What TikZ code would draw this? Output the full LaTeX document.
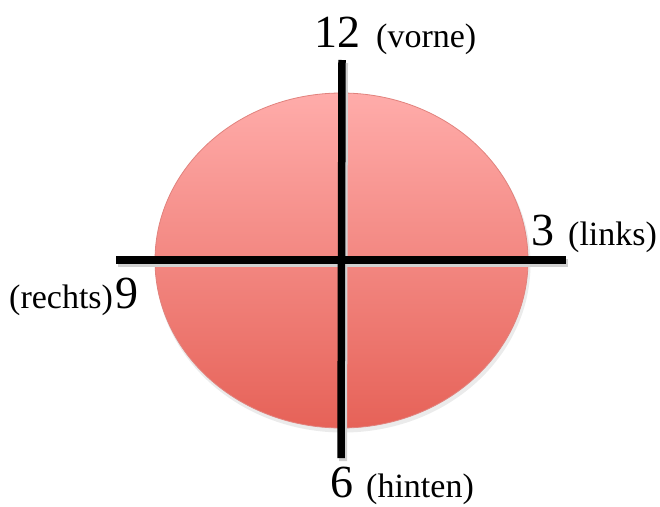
\documentclass[tikz,border=0pt]{standalone}
\usepackage{fontspec}
\setmainfont{Liberation Serif}
\usetikzlibrary{shapes.geometric}
\definecolor{disktop}{RGB}{255,172,170}
\definecolor{diskbot}{RGB}{230,98,88}
\definecolor{diskrim}{RGB}{225,130,125}
\begin{document}
\begin{tikzpicture}[x=1pt,y=-1pt,
  num/.style={font=\fontsize{46}{46}\selectfont, inner sep=0pt, anchor=base west},
  lab/.style={font=\fontsize{34}{34}\selectfont, inner sep=0pt, anchor=base west},
  axisline/.style={line width=7.5pt, black},
  axisshadow/.style={line width=8pt, black!18}]
\useasboundingbox (0,0) rectangle (660,506);
% soft shadow of the disk
\node[ellipse, minimum width=375pt, minimum height=337pt, inner sep=0pt, fill=black!8, draw=none]
  (diskshadow) at (343,264) {};
% disk
\node[ellipse, minimum width=373pt, minimum height=335pt, inner sep=0pt,
  top color=disktop, bottom color=diskbot, draw=diskrim, line width=0.8pt]
  (disk) at (341.5,260.5) {};
% axis end points
\coordinate (n) at (342,60);
\coordinate (s) at (341,458);
\coordinate (w) at (116,260);
\coordinate (e) at (566,260);
\coordinate (ns) at (344,63);
\coordinate (ss) at (343,461);
\coordinate (ws) at (118,263);
\coordinate (es) at (568,263);
\draw[axisshadow] (ws) -- (es);
\draw[axisshadow] (ns) -- (ss);
\draw[axisline] (w) -- (e);
\draw[axisline] (n) -- (s);
% labels
\node[num] (twelve) at (314,47) {12};
\node[lab] (vorne) at (376,47) {(vorne)};
\node[lab] (rechts) at (9,308) {(rechts)};
\node[num] (nine) at (115,308) {9};
\node[num] (three) at (531,245) {3};
\node[lab] (links) at (568,245) {(links)};
\node[num] (six) at (330,497) {6};
\node[lab] (hinten) at (366,497) {(hinten)};
\end{tikzpicture}
\end{document}
